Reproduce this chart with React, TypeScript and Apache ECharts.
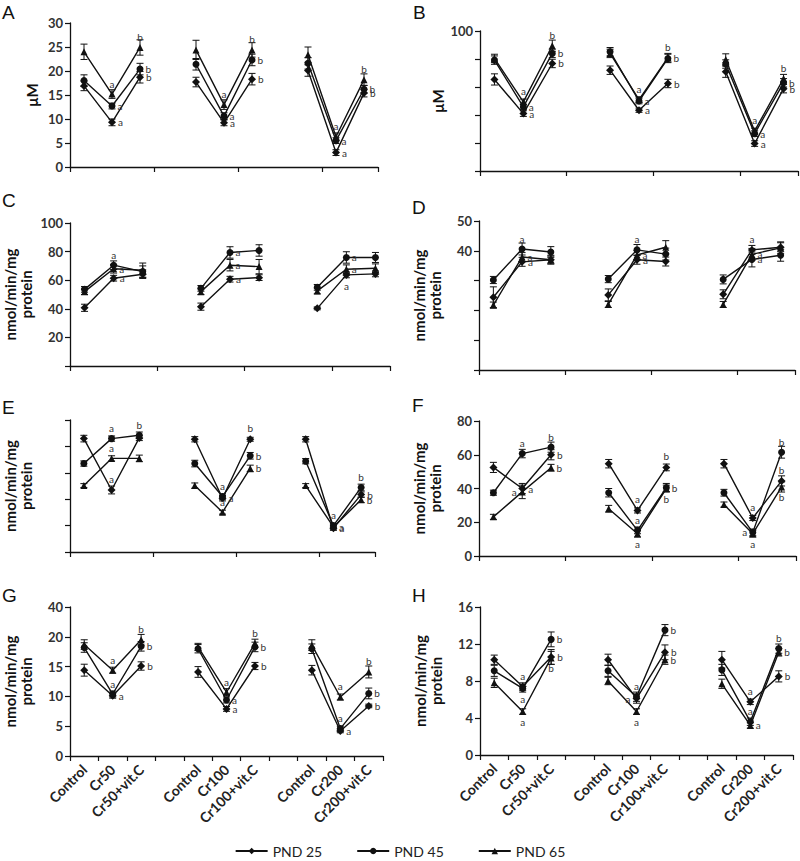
import React, { useEffect, useRef } from 'react';
import * as echarts from 'echarts';

const categories = ['Control', 'Cr50', 'Cr50+vit.C', '', 'Control', 'Cr100', 'Cr100+vit.C', '', 'Control', 'Cr200', 'Cr200+vit.C'];
const seriesNames = ['PND 25', 'PND 45', 'PND 65'];
const symbols = ['diamond', 'circle', 'triangle'];

// Panel A (µM)
const a25 = [16.9, 9.3, 18.7, 17.7, 9.2, 18.3, 20.1, 3.0, 15.4];
const a45 = [18.0, 12.7, 20.4, 21.4, 10.6, 22.3, 21.6, 5.5, 16.2];
const a65 = [24.0, 15.2, 24.9, 24.4, 13.0, 24.4, 23.4, 6.3, 18.2];
const aE25 = [1.0, 0.7, 1.2, 1.0, 0.6, 1.2, 1.2, 0.6, 0.8];
const aE45 = [1.2, 0.6, 1.2, 1.2, 0.7, 1.2, 1.2, 0.6, 0.8];
const aE65 = [1.6, 0.9, 1.6, 2.0, 1.0, 1.5, 1.6, 0.8, 1.2];

// Panel B (µM)
const b25 = [65.4, 41.0, 76.8, 72.0, 43.4, 62.5, 70.9, 19.6, 58.8];
const b45 = [79.2, 45.8, 84.0, 85.2, 50.0, 80.4, 76.4, 26.7, 63.0];
const b65 = [80.4, 49.4, 89.5, 84.0, 51.0, 81.0, 79.7, 28.6, 66.0];
const bE25 = [4, 2, 3, 3, 1.5, 3, 4, 2, 3];
const bE45 = [3, 2, 3, 3, 2, 3, 3, 2, 3];
const bE65 = [3, 2, 4, 3, 2, 3, 4, 2, 3];

// Panel C
const c25 = [40.7, 61.4, 64.2, 41.5, 60.7, 61.8, 40.3, 63.7, 64.4];
const c45 = [53.6, 70.5, 66.0, 54.3, 79.4, 80.8, 55.0, 75.9, 75.9];
const c65 = [52.0, 68.0, 67.0, 52.0, 70.5, 69.5, 52.5, 67.7, 68.4];
const cE25 = [2.5, 2, 3, 2.5, 2, 2, 1, 2, 2];
const cE45 = [2, 3, 4, 2, 4, 4, 2, 4, 3.5];
const cE65 = [2, 3, 5, 2, 4, 5, 2, 3, 3];

// Panel D
const d25 = [24.4, 36.3, 37.0, 25.2, 37.0, 36.4, 25.4, 40.3, 41.2];
const d45 = [30.2, 40.6, 39.6, 30.5, 40.3, 38.9, 30.4, 37.1, 38.5];
const d65 = [21.8, 37.9, 37.0, 22.0, 38.6, 41.2, 22.0, 38.8, 41.0];
const dE25 = [3.5, 1.5, 1.5, 2, 1.5, 1.5, 1.5, 1.5, 1.5];
const dE45 = [1.2, 2, 1.8, 1.2, 1.8, 2, 1.5, 2.5, 2];
const dE65 = [1, 1.5, 1.2, 1, 1.5, 2.2, 1, 2, 2];

// Panel E
const e25 = [85.9, 47.0, 86.4, 85.4, 40.7, 85.4, 85.4, 18.0, 43.5];
const e45 = [67.0, 85.9, 88.4, 67.0, 42.0, 72.9, 68.8, 20.0, 48.9];
const e65 = [50.3, 70.9, 70.9, 50.3, 30.2, 63.3, 50.3, 19.0, 39.5];
const eE25 = [2.5, 3, 2, 2, 2, 1.5, 2, 1.5, 2];
const eE45 = [2, 2, 2.5, 2.5, 2, 2.5, 2, 1.5, 2.5];
const eE65 = [1.5, 2, 2.5, 2, 1.5, 2.5, 1.5, 1.5, 2];

// Panel F
const f25 = [52.5, 40.0, 60.0, 54.7, 27.0, 52.5, 54.7, 22.5, 44.5];
const f45 = [37.5, 60.7, 64.5, 37.5, 15.2, 40.5, 37.5, 14.0, 61.5];
const f65 = [23.2, 38.0, 52.3, 28.0, 13.2, 40.0, 30.5, 13.2, 40.9];
const fE25 = [3, 3, 3, 2.5, 1.5, 2, 2.5, 1.5, 3];
const fE45 = [1.5, 2.5, 3, 2.5, 2, 2.5, 2, 2, 3.5];
const fE65 = [1.5, 4, 2, 2, 2, 2, 1.5, 2, 3];

// Panel G
const g25 = [14.4, 10.1, 15.1, 14.1, 7.9, 15.1, 14.4, 4.2, 8.4];
const g45 = [18.2, 10.4, 18.4, 18.0, 9.4, 18.3, 18.0, 4.6, 10.5];
const g65 = [18.7, 14.4, 19.5, 18.3, 10.7, 18.9, 18.6, 9.9, 14.1];
const gE25 = [1.0, 0.4, 0.7, 0.9, 0.4, 0.6, 0.8, 0.3, 0.3];
const gE45 = [0.8, 0.5, 0.8, 0.7, 0.5, 0.8, 0.8, 0.4, 0.9];
const gE65 = [0.8, 0.5, 0.9, 0.6, 0.6, 0.7, 0.9, 0.5, 1.0];

// Panel H
const h25 = [10.3, 7.4, 10.6, 10.3, 6.1, 11.1, 10.3, 5.75, 8.5];
const h45 = [9.1, 7.2, 12.5, 9.1, 6.3, 13.5, 9.2, 3.6, 11.5];
const h65 = [7.8, 4.7, 10.5, 8.0, 4.7, 10.3, 7.7, 3.2, 11.1];
const hE25 = [0.5, 0.4, 0.8, 0.6, 0.5, 0.8, 0.9, 0.3, 0.6];
const hE45 = [0.6, 0.4, 0.8, 0.6, 0.5, 0.6, 0.6, 0.4, 0.5];
const hE65 = [0.5, 0.3, 0.7, 0.4, 0.3, 0.5, 0.5, 0.3, 0.4];

// significance letters
const letAB = ['', 'a', 'b', '', 'a', 'b', '', 'a', 'b'];
const letA = ['', 'a', '', '', 'a', '', '', 'a', ''];
const letE25 = ['', 'a', '', '', 'a', 'b', '', 'a', 'b'];
const letE45 = ['', 'a', 'b', '', 'a', 'b', '', 'a', 'b'];
const letE65 = ['', 'a', '', '', 'a', 'b', '', 'a', 'b'];

const posMap: Record<string, string> = { t: 'top', r: 'right', b: 'bottom', l: 'left' };

const INK = '#111';
const FONT = 'Lato, "Open Sans", sans-serif';

const panels = [
  { key: 'A', lx: 2, ly: 3, grid: { left: 70, top: 23, width: 308, height: 144 }, max: 30, interval: 5, name: 'μM', gap: 30,
    fmt: (v: number) => String(v), vals: [a25, a45, a65], errs: [aE25, aE45, aE65], lets: [letAB, letAB, letAB],
    pos: ['rrrrrrrrr', 'rrrrrrrrr', 'ttttttttt'], xl: false },
  { key: 'B', lx: 413, ly: 3, grid: { left: 480, top: 31, width: 318, height: 140 }, max: 100, interval: 20, name: 'μM', gap: 32,
    fmt: (v: number) => (v === 100 ? '100' : ''), vals: [b25, b45, b65], errs: [bE25, bE45, bE65], lets: [letAB, letAB, letAB],
    pos: ['rrrrrrrrr', 'rrrrrrrrr', 'ttttttttt'], xl: false },
  { key: 'C', lx: 2, ly: 191, grid: { left: 70, top: 223, width: 320, height: 143 }, max: 100, interval: 20, name: 'nmol/min/mg\nprotein', gap: 36,
    fmt: (v: number) => (v === 0 ? '' : String(v)), vals: [c25, c45, c65], errs: [cE25, cE45, cE65], lets: [letA, letA, letA],
    pos: ['rrrrrrrbr', 'rtrrrrrrr', 'rrrrrrrrr'], xl: false },
  { key: 'D', lx: 412, ly: 198, grid: { left: 479, top: 221, width: 316, height: 149 }, max: 50, interval: 10, name: 'nmol/min/mg\nprotein', gap: 36,
    fmt: (v: number) => (v >= 40 ? String(v) : ''), vals: [d25, d45, d65], errs: [dE25, dE45, dE65], lets: [letA, letA, letA],
    pos: ['rrrrrrrtr', 'tttttttrt', 'rrrrrrrrr'], xl: false },
  { key: 'E', lx: 2, ly: 398, grid: { left: 70, top: 420, width: 305, height: 132 }, max: 100, interval: 20, name: 'nmol/min/mg\nprotein', gap: 36,
    fmt: null, vals: [e25, e45, e65], errs: [eE25, eE45, eE65], lets: [letE25, letE45, letE65],
    pos: ['rtrrrtrrr', 'rttrtrrtt', 'rtrrtrrrr'], xl: false },
  { key: 'F', lx: 412, ly: 396, grid: { left: 479, top: 421, width: 317, height: 135 }, max: 80, interval: 20, name: 'nmol/min/mg\nprotein', gap: 36,
    fmt: (v: number) => String(v), vals: [f25, f45, f65], errs: [fE25, fE45, fE65], lets: [letAB, letAB, letAB],
    pos: ['rrrrttrtt', 'rttrtrrlt', 'rlrrbbrbb'], xl: false },
  { key: 'G', lx: 2, ly: 586, grid: { left: 70, top: 607, width: 313, height: 149 }, max: 25, interval: 5, name: 'nmol/min/mg\nprotein', gap: 36,
    fmt: (v: number) => (v === 25 ? '40' : String(v)), vals: [g25, g45, g65], errs: [gE25, gE45, gE65], lets: [letAB, letAB, letAB],
    pos: ['rrrrrrrrr', 'rtrrrrrtr', 'ttttttttt'], xl: true },
  { key: 'H', lx: 412, ly: 586, grid: { left: 480, top: 607, width: 313, height: 148 }, max: 16, interval: 4, name: 'nmol/min/mg\nprotein', gap: 36,
    fmt: (v: number) => String(v), vals: [h25, h45, h65], errs: [hE25, hE45, hE65], lets: [letAB, letAB, letAB],
    pos: ['rtrrlrrtr', 'rbrrtrrtt', 'rbbrbrrrr'], xl: true },
];

const slotIndex = [0, 1, 2, 4, 5, 6, 8, 9, 10];

function buildOption() {
  const grid: any[] = [];
  const xAxis: any[] = [];
  const yAxis: any[] = [];
  const series: any[] = [];
  const graphic: any[] = [];

  panels.forEach((p, pi) => {
    grid.push({ ...p.grid, containLabel: false });
    xAxis.push({
      type: 'category', gridIndex: pi, data: categories, boundaryGap: true,
      axisLine: { lineStyle: { color: INK, width: 1.3 } },
      axisTick: { show: true, length: 5, lineStyle: { color: INK, width: 1.2 } },
      axisLabel: p.xl ? {
        show: true, interval: 0, rotate: 45, margin: 11, fontSize: 14, fontWeight: 'bold',
        color: '#222', fontFamily: FONT,
      } : { show: false },
      splitLine: { show: false },
    });
    yAxis.push({
      type: 'value', gridIndex: pi, min: 0, max: p.max, interval: p.interval,
      name: p.name, nameLocation: 'middle', nameGap: p.gap, nameRotate: 90,
      nameTextStyle: { fontSize: 15, fontWeight: 'bold', color: '#111', fontFamily: FONT, lineHeight: 16 },
      axisLine: { show: true, lineStyle: { color: INK, width: 1.3 } },
      axisTick: { show: true, length: 5, lineStyle: { color: INK, width: 1.2 } },
      axisLabel: p.fmt ? { show: true, formatter: p.fmt, fontSize: 13, fontWeight: 'bold', color: '#333', fontFamily: FONT, margin: 7 } : { show: false },
      splitLine: { show: false },
    });

    graphic.push({
      type: 'text', left: p.lx, top: p.ly,
      style: { text: p.key, fontSize: 19, fill: '#111', fontFamily: 'Arial, "Liberation Sans", sans-serif' },
    });

    p.vals.forEach((vals, si) => {
      const data: any[] = new Array(categories.length).fill(null);
      vals.forEach((v, k) => {
        const letter = p.lets[si][k];
        data[slotIndex[k]] = letter
          ? { value: v, label: { show: true, formatter: letter, position: posMap[p.pos[si][k]], distance: 2, color: '#333', fontSize: 10, fontFamily: FONT } }
          : v;
      });
      series.push({
        type: 'line', name: seriesNames[si], xAxisIndex: pi, yAxisIndex: pi, data,
        color: INK,
        connectNulls: false, symbol: symbols[si], symbolSize: si === 0 ? 8 : 7,
        lineStyle: { color: INK, width: 1.4 }, itemStyle: { color: INK },
        label: { show: false, fontSize: 10, color: '#333', fontFamily: FONT },
        labelLayout: { hideOverlap: false },
        z: 3,
      });
      const errData = vals.map((v, k) => [slotIndex[k], v - p.errs[si][k], v + p.errs[si][k]]);
      series.push({
        type: 'custom', xAxisIndex: pi, yAxisIndex: pi, data: errData,
        encode: { x: 0, y: [1, 2] }, silent: true, z: 2,
        renderItem: (params: any, api: any) => {
          const x = api.value(0);
          const lo = api.coord([x, api.value(1)]);
          const hi = api.coord([x, api.value(2)]);
          const w = 3.5;
          const st = { stroke: INK, lineWidth: 1 };
          return {
            type: 'group',
            children: [
              { type: 'line', shape: { x1: lo[0], y1: lo[1], x2: hi[0], y2: hi[1] }, style: st },
              { type: 'line', shape: { x1: hi[0] - w, y1: hi[1], x2: hi[0] + w, y2: hi[1] }, style: st },
              { type: 'line', shape: { x1: lo[0] - w, y1: lo[1], x2: lo[0] + w, y2: lo[1] }, style: st },
            ],
          };
        },
      });
    });
  });

  return {
    animation: false,
    backgroundColor: '#fff',
    color: [INK, INK, INK],
    grid, xAxis, yAxis, series, graphic,
    legend: {
      data: seriesNames, bottom: -2, left: 'center', itemWidth: 32, itemHeight: 8, itemGap: 34,
      textStyle: { fontSize: 14, color: '#222', fontFamily: FONT },
    },
  };
}

export default function App() {
  const ref = useRef<HTMLDivElement>(null);
  useEffect(() => {
    if (!ref.current) return;
    const chart = echarts.init(ref.current, undefined, { renderer: 'svg' });
    chart.setOption(buildOption() as any);
    return () => chart.dispose();
  }, []);
  return <div ref={ref} style={{ position: 'absolute', left: 0, top: 0, width: 800, height: 861 }} />;
}
